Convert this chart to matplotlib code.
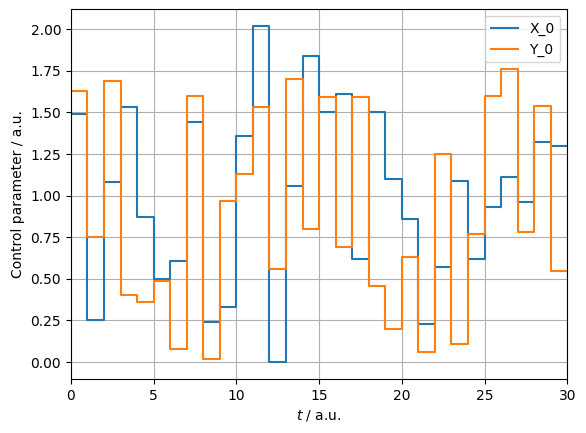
import numpy as np
from matplotlib import pyplot as plt

t = np.arange(0, 31)
x_0 = [1.49, 0.25, 1.08, 1.53, 0.87, 0.50, 0.61, 1.44, 0.24, 0.33,
       1.36, 2.02, 0.00, 1.06, 1.84, 1.50, 1.61, 0.62, 1.50, 1.10,
       0.86, 0.23, 0.57, 1.09, 0.62, 0.93, 1.11, 0.96, 1.32, 1.30]
y_0 = [1.63, 0.75, 1.69, 0.40, 0.36, 0.49, 0.08, 1.60, 0.02, 0.97,
       1.13, 1.53, 0.56, 1.70, 0.80, 1.59, 0.69, 1.59, 0.46, 0.20,
       0.63, 0.06, 1.25, 0.11, 0.77, 1.60, 1.76, 0.78, 1.54, 0.55]

fig = plt.figure(figsize=(5.86, 4.33), dpi=100)
ax = fig.add_subplot(1, 1, 1)
fig.subplots_adjust(left=0.121, right=0.968, top=0.979, bottom=0.125)

ax.step(t, x_0 + [x_0[-1]], where='post', label='X_0')
ax.step(t, y_0 + [y_0[-1]], where='post', label='Y_0')
ax.set_xlim(0, 30)
ax.set_xlabel('$t$ / a.u.')
ax.set_ylabel('Control parameter / a.u.')
ax.grid(True)
ax.legend(loc='upper right')

fig.savefig('out.png', dpi=100)
